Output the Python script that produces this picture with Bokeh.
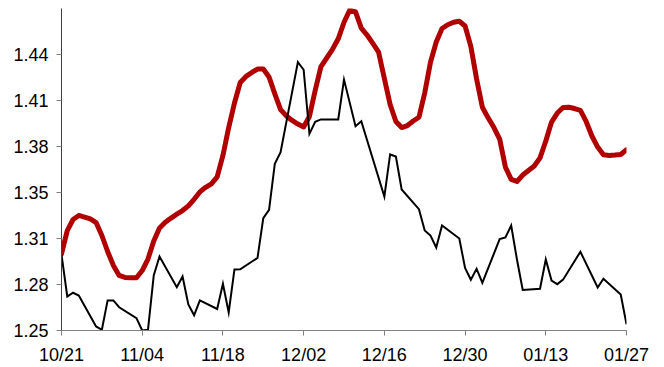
import pandas as pd
from bokeh.plotting import figure
from bokeh.models import Range1d, FixedTicker, ColumnDataSource
from bokeh.embed import file_html
from bokeh.resources import INLINE

# ---- data ----
black_dates = [
    "2014-10-21", "2014-10-22", "2014-10-23", "2014-10-24", "2014-10-27", "2014-10-28",
    "2014-10-29", "2014-10-30", "2014-10-31", "2014-11-03", "2014-11-04", "2014-11-05",
    "2014-11-06", "2014-11-07", "2014-11-10", "2014-11-11", "2014-11-12", "2014-11-13",
    "2014-11-14", "2014-11-17", "2014-11-18", "2014-11-19", "2014-11-20", "2014-11-21",
    "2014-11-24", "2014-11-25", "2014-11-26", "2014-11-27", "2014-11-28", "2014-12-01",
    "2014-12-02", "2014-12-03", "2014-12-04", "2014-12-05", "2014-12-08", "2014-12-09",
    "2014-12-11", "2014-12-12", "2014-12-16", "2014-12-17", "2014-12-18", "2014-12-19",
    "2014-12-22", "2014-12-23", "2014-12-24", "2014-12-25", "2014-12-26", "2014-12-29",
    "2014-12-30", "2014-12-31", "2015-01-01", "2015-01-02", "2015-01-05", "2015-01-06",
    "2015-01-07", "2015-01-08", "2015-01-09", "2015-01-12", "2015-01-13", "2015-01-14",
    "2015-01-15", "2015-01-16", "2015-01-19", "2015-01-22", "2015-01-23", "2015-01-26",
    "2015-01-27",
]
black_values = [
    1.3023, 1.2734, 1.2760, 1.2741, 1.2528, 1.2505,
    1.2707, 1.2707, 1.2660, 1.2585, 1.2500, 1.2505,
    1.2879, 1.3009, 1.2798, 1.2872, 1.2679, 1.2605,
    1.2707, 1.2648, 1.2821, 1.2624, 1.2920, 1.2921,
    1.3000, 1.3274, 1.3330, 1.3648, 1.3727, 1.4348,
    1.4295, 1.3854, 1.3937, 1.3953, 1.3953, 1.4227,
    1.3906, 1.3940, 1.3422, 1.3712, 1.3698, 1.3471,
    1.3335, 1.3188, 1.3154, 1.3071, 1.3223, 1.3133,
    1.2930, 1.2849, 1.2925, 1.2828, 1.3129, 1.3140,
    1.3223, 1.2989, 1.2779, 1.2787, 1.2989, 1.2844,
    1.2819, 1.2850, 1.3042, 1.2796, 1.2856, 1.2748,
    1.2543,
]

red_start = "2014-10-21"
red_values = [
    1.3028, 1.3188, 1.3264, 1.3292, 1.3281, 1.3268, 1.3243, 1.3154, 1.3044, 1.2947,
    1.2879, 1.2865, 1.2863, 1.2863, 1.2913, 1.2992, 1.3116, 1.3206, 1.3245, 1.3274,
    1.3301, 1.3326, 1.3358, 1.3403, 1.3454, 1.3486, 1.3510, 1.3557, 1.3705, 1.3897,
    1.4066, 1.4207, 1.4249, 1.4276, 1.4300, 1.4300, 1.4245, 1.4129, 1.4021, 1.3977,
    1.3946, 1.3921, 1.3901, 1.3973, 1.4152, 1.4317, 1.4376, 1.4436, 1.4508, 1.4622,
    1.4706, 1.4693, 1.4582, 1.4534, 1.4476, 1.4416, 1.4235, 1.4056, 1.3939, 1.3897,
    1.3911, 1.3942, 1.3968, 1.4135, 1.4347, 1.4486, 1.4579, 1.4605, 1.4622, 1.4629,
    1.4596, 1.4456, 1.4231, 1.4037, 1.3964, 1.3897, 1.3818, 1.3624, 1.3540, 1.3526,
    1.3570, 1.3601, 1.3632, 1.3688, 1.3805, 1.3935, 1.3997, 1.4035, 1.4037, 1.4028,
    1.4015, 1.3939, 1.3839, 1.3763, 1.3710, 1.3705, 1.3708, 1.3712, 1.3744,
]

x_tick_dates = ["2014-10-21", "2014-11-04", "2014-11-18", "2014-12-02",
                "2014-12-16", "2014-12-30", "2015-01-13", "2015-01-27"]
x_tick_labels = ["10/21", "11/04", "11/18", "12/02", "12/16", "12/30", "01/13", "01/27"]

y_ticks = [1.25, 1.2816667, 1.3133333, 1.345, 1.3766667, 1.4083333, 1.44]
y_tick_labels = ["1.25", "1.28", "1.31", "1.35", "1.38", "1.41", "1.44"]
y_min, y_max = 1.25, 1.4716667

# ---- build ----
def to_ms(s):
    return pd.Timestamp(s).value / 1e6

black_src = ColumnDataSource(dict(x=pd.to_datetime(black_dates), y=black_values))
red_src = ColumnDataSource(dict(
    x=pd.date_range(red_start, periods=len(red_values), freq="D"), y=red_values))

x_tick_ms = [to_ms(d) for d in x_tick_dates]

p = figure(width=664, height=367, x_axis_type="datetime",
           output_backend="svg", toolbar_location=None,
           min_border_left=61, min_border_right=38,
           min_border_top=8, min_border_bottom=37)
p.x_range = Range1d(x_tick_ms[0], x_tick_ms[-1])
p.y_range = Range1d(y_min, y_max)
p.outline_line_color = None
p.grid.visible = False
p.background_fill_color = "white"
p.border_fill_color = "white"

p.line("x", "y", source=red_src, line_color="#B00000", line_width=5,
       line_join="round", line_cap="round")
p.line("x", "y", source=black_src, line_color="black", line_width=2,
       line_join="miter")

xa = p.xaxis[0]
xa.ticker = FixedTicker(ticks=x_tick_ms, minor_ticks=[])
xa.major_label_overrides = {t: l for t, l in zip(x_tick_ms, x_tick_labels)}
xa.axis_line_color = "#808080"
xa.major_tick_line_color = "#808080"
xa.major_tick_out = 5
xa.major_tick_in = 0
xa.minor_tick_line_color = None
xa.major_label_standoff = 9
xa.major_label_text_font = "Liberation Sans"
xa.major_label_text_font_size = "18px"
xa.major_label_text_color = "black"

ya = p.yaxis[0]
ya.ticker = FixedTicker(ticks=y_ticks, minor_ticks=[])
ya.major_label_overrides = {t: l for t, l in zip(y_ticks, y_tick_labels)}
ya.axis_line_color = "#404040"
ya.major_tick_line_color = "#808080"
ya.major_tick_out = 5
ya.major_tick_in = 0
ya.minor_tick_line_color = None
ya.major_label_standoff = 8
ya.major_label_text_font = "Liberation Sans"
ya.major_label_text_font_size = "18px"
ya.major_label_text_color = "black"

open("out.html", "w").write(file_html(p, INLINE))
